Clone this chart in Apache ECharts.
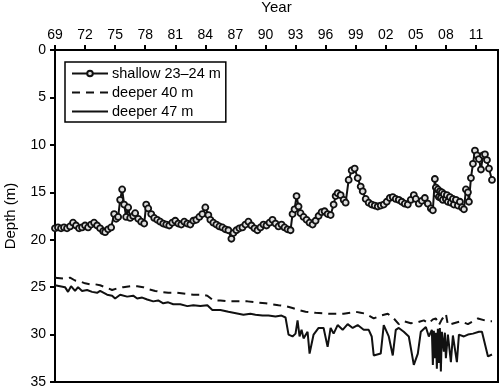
<!DOCTYPE html>
<html>
<head>
<meta charset="utf-8">
<script src="https://cdn.jsdelivr.net/npm/echarts@6/dist/echarts.min.js"></script>
<style>
html,body{margin:0;padding:0;background:#fff;}
#chart{width:500px;height:391px;}
</style>
</head>
<body>
<div id="chart"></div>
<script>
const seriesNames = ['shallow 23\u201324 m', 'deeper 40 m', 'deeper 47 m'];
const yTicks = [0, 5, 10, 15, 20, 25, 30, 35];

const shallow = [
[1969.0,18.8],[1969.3,18.7],[1969.6,18.8],[1969.9,18.7],[1970.2,18.8],[1970.5,18.6],[1970.8,18.2],[1971.1,18.5],
[1971.4,18.8],[1971.7,18.7],[1972.0,18.5],[1972.3,18.7],[1972.6,18.4],[1972.9,18.2],[1973.2,18.5],[1973.5,18.8],
[1973.8,19.1],[1974.0,19.2],[1974.3,18.9],[1974.6,18.7],[1974.9,17.3],[1975.1,17.8],[1975.3,17.6],[1975.5,15.8],
[1975.7,14.7],[1975.9,16.3],[1976.1,17.6],[1976.3,16.6],[1976.5,17.7],[1976.8,17.5],[1977.0,17.2],[1977.3,17.8],
[1977.6,18.1],[1977.9,18.3],[1978.1,16.3],[1978.3,16.7],[1978.6,17.3],[1978.9,17.7],[1979.2,17.9],[1979.5,18.1],
[1979.8,18.3],[1980.1,18.4],[1980.4,18.5],[1980.7,18.2],[1981.0,18.0],[1981.3,18.3],[1981.6,18.4],[1981.9,18.1],
[1982.2,18.3],[1982.5,18.4],[1982.8,18.0],[1983.1,17.9],[1983.4,17.6],[1983.7,17.3],[1984.0,16.6],[1984.3,17.4],
[1984.5,17.9],[1984.8,18.2],[1985.1,18.4],[1985.4,18.6],[1985.7,18.7],[1986.0,18.9],[1986.3,19.0],[1986.6,19.9],
[1986.8,19.3],[1987.1,19.0],[1987.4,18.8],[1987.7,18.7],[1988.0,18.4],[1988.3,18.1],[1988.6,18.5],[1988.9,18.8],
[1989.2,19.0],[1989.5,18.7],[1989.8,18.4],[1990.1,18.5],[1990.4,18.2],[1990.7,17.9],[1991.0,18.3],[1991.3,18.6],
[1991.6,18.4],[1991.9,18.7],[1992.2,18.9],[1992.5,19.0],[1992.7,17.3],[1992.9,16.8],[1993.1,15.4],[1993.3,16.5],
[1993.5,17.2],[1993.8,17.6],[1994.1,17.9],[1994.4,18.2],[1994.7,18.4],[1995.0,18.0],[1995.3,17.5],[1995.6,17.1],
[1995.9,17.0],[1996.2,17.3],[1996.5,17.4],[1996.8,16.3],[1997.0,15.4],[1997.2,15.1],[1997.5,15.3],[1997.8,15.8],
[1998.0,16.1],[1998.3,13.7],[1998.6,12.7],[1998.9,12.5],[1999.2,13.5],[1999.5,14.4],[1999.7,14.9],[2000.0,15.7],
[2000.3,16.1],[2000.6,16.3],[2000.9,16.4],[2001.2,16.5],[2001.5,16.4],[2001.8,16.3],[2002.1,16.0],[2002.4,15.6],
[2002.7,15.5],[2003.0,15.7],[2003.3,15.8],[2003.6,16.0],[2003.9,16.2],[2004.2,16.3],[2004.5,15.8],[2004.8,15.3],
[2005.0,15.7],[2005.3,16.2],[2005.6,15.9],[2005.9,15.6],[2006.2,16.2],[2006.5,16.7],[2006.7,16.9],[2006.9,13.6],
[2007.0,14.5],[2007.1,15.2],[2007.2,14.7],[2007.3,15.5],[2007.4,14.9],[2007.5,15.6],[2007.6,15.0],[2007.7,15.8],
[2007.8,15.2],[2008.0,15.7],[2008.1,15.3],[2008.2,16.0],[2008.4,15.5],[2008.5,16.1],[2008.7,15.7],[2008.8,16.3],
[2009.0,15.8],[2009.2,16.4],[2009.4,16.0],[2009.6,16.6],[2009.8,16.8],[2010.0,14.7],[2010.2,15.0],[2010.3,16.0],
[2010.5,13.5],[2010.7,12.0],[2010.9,10.6],[2011.1,11.1],[2011.3,11.5],[2011.5,12.6],[2011.7,11.1],[2011.9,11.0],
[2012.1,11.6],[2012.3,12.5],[2012.6,13.7]
];

const deeper40 = [
[1969.0,24.0],[1970.0,24.1],[1970.5,24.0],[1971.0,24.3],[1971.5,24.4],[1972.0,24.6],[1972.5,24.7],[1973.0,24.7],
[1973.5,24.8],[1974.0,25.0],[1974.7,25.3],[1975.3,25.1],[1975.8,25.0],[1976.5,24.9],[1977.2,24.9],[1977.8,25.0],
[1978.3,25.2],[1979.0,25.4],[1979.5,25.5],[1980.3,25.6],[1981.2,25.6],[1982.0,25.7],[1982.8,25.8],[1983.7,25.8],
[1984.2,25.9],[1984.8,26.4],[1985.5,26.4],[1986.3,26.5],[1987.2,26.5],[1988.2,26.5],[1989.0,26.6],[1990.0,26.7],
[1991.3,26.9],[1992.0,27.0],[1992.7,27.2],[1993.3,27.4],[1994.0,27.6],[1995.0,27.7],[1996.3,27.8],[1997.0,27.8],
[1997.8,27.8],[1998.5,27.7],[1999.0,27.6],[1999.5,27.7],[2000.0,27.8],[2000.8,28.3],[2001.5,28.0],[2002.2,27.8],
[2002.8,28.3],[2003.3,28.9],[2003.8,28.6],[2004.5,28.8],[2005.2,28.7],[2005.8,28.5],[2006.3,28.8],[2006.7,28.4],
[2007.0,28.3],[2007.3,29.0],[2007.6,28.4],[2008.0,27.8],[2008.2,29.0],[2008.8,28.8],[2009.5,28.6],[2010.2,28.9],
[2010.7,28.6],[2011.2,28.3],[2012.2,28.6],[2012.6,28.6]
];

const deeper47 = [
[1969.0,24.8],[1969.5,24.9],[1970.0,25.0],[1970.3,25.5],[1970.6,24.9],[1971.0,25.4],[1971.3,25.0],[1971.7,25.4],
[1972.2,25.3],[1972.7,25.5],[1973.2,25.6],[1973.5,25.4],[1974.2,25.8],[1974.7,25.9],[1975.0,26.2],[1975.5,25.8],
[1976.2,26.0],[1976.8,25.9],[1977.2,26.2],[1977.7,26.1],[1978.2,26.3],[1978.8,26.5],[1979.3,26.4],[1979.8,26.7],
[1980.3,26.6],[1980.8,26.8],[1981.5,26.8],[1982.2,27.0],[1982.8,26.9],[1983.5,27.0],[1984.2,26.9],[1984.7,27.4],
[1985.5,27.4],[1986.3,27.6],[1986.8,27.7],[1987.8,27.9],[1988.5,27.8],[1989.0,27.9],[1989.7,28.0],[1990.3,28.0],
[1991.0,28.1],[1991.6,28.0],[1992.0,28.2],[1992.3,30.0],[1992.7,30.2],[1993.0,29.9],[1993.2,28.5],[1993.4,30.2],
[1993.6,29.5],[1993.8,30.4],[1994.2,29.7],[1994.4,32.0],[1994.8,30.0],[1995.3,29.3],[1995.8,29.3],[1996.2,31.3],
[1996.5,29.3],[1996.8,29.9],[1997.2,29.0],[1997.7,29.5],[1998.2,28.9],[1998.7,29.3],[1999.2,29.0],[1999.8,29.5],
[2000.3,29.5],[2000.6,30.2],[2000.8,32.2],[2001.5,32.0],[2001.8,29.0],[2002.3,30.2],[2002.7,32.2],[2003.0,29.5],
[2003.3,29.3],[2003.8,29.7],[2004.3,30.2],[2004.8,33.2],[2005.2,32.0],[2005.5,29.7],[2006.0,29.2],[2006.3,30.2],
[2006.6,29.5],[2006.7,33.2],[2006.8,29.6],[2006.9,32.5],[2007.0,29.8],[2007.1,33.6],[2007.2,29.4],[2007.3,33.0],
[2007.4,29.3],[2007.5,33.9],[2007.6,29.7],[2007.8,31.8],[2007.9,29.8],[2008.0,32.5],[2008.2,30.0],[2008.5,32.9],
[2008.7,30.1],[2008.8,30.2],[2009.1,32.9],[2009.3,30.0],[2009.8,30.2],[2010.2,30.0],[2010.7,29.9],[2011.3,29.7],
[2011.6,29.7],[2012.2,32.3],[2012.6,32.1]
];

const FONT = '"Liberation Sans", Arial, Helvetica, sans-serif';
const chart = echarts.init(document.getElementById('chart'), null, {renderer: 'canvas'});
const hidden = {color: 'transparent', borderColor: 'transparent', borderWidth: 0, opacity: 0};
chart.setOption({
  animation: false,
  backgroundColor: '#fff',
  textStyle: {fontFamily: FONT, color: '#000'},
  grid: {left: 55, right: 2, top: 50, bottom: 9, containLabel: false, outerBoundsMode: 'none',
    show: true, borderColor: '#000', borderWidth: 2, backgroundColor: 'transparent'},
  legend: {
    orient: 'vertical', left: 65, top: 62,
    borderColor: '#000', borderWidth: 1.5, padding: [4, 5, 3, 6],
    itemWidth: 36, itemHeight: 7, itemGap: 4,
    textStyle: {fontFamily: FONT, fontSize: 14.5, color: '#000', padding: [0, 0, 0, -1]},
    data: [
      {name: seriesNames[0]},
      {name: seriesNames[1], itemStyle: hidden},
      {name: seriesNames[2], itemStyle: hidden}
    ]
  },
  xAxis: {
    type: 'value', position: 'top', min: 1969, max: 2013.2, interval: 3,
    name: 'Year', nameLocation: 'middle', nameGap: 35,
    nameTextStyle: {fontFamily: FONT, fontSize: 15, color: '#000'},
    axisLine: {lineStyle: {color: '#000', width: 2}},
    axisTick: {inside: false, length: 5, lineStyle: {color: '#000', width: 2}},
    axisLabel: {fontFamily: FONT, fontSize: 14, color: '#000', margin: 8, showMaxLabel: false,
      formatter: v => String(Math.round(v) % 100).padStart(2, '0')},
    splitLine: {show: false}
  },
  yAxis: {
    type: 'value', inverse: true, min: yTicks[0], max: yTicks[yTicks.length - 1], interval: 5,
    name: 'Depth (m)', nameLocation: 'middle', nameGap: 37,
    nameTextStyle: {fontFamily: FONT, fontSize: 15, color: '#000'},
    axisLine: {lineStyle: {color: '#000', width: 2}},
    axisTick: {inside: false, length: 5, lineStyle: {color: '#000', width: 2}},
    axisLabel: {fontFamily: FONT, fontSize: 14, color: '#000', margin: 9},
    splitLine: {show: false}
  },
  series: [
    {
      name: seriesNames[0], type: 'line', data: shallow,
      symbol: 'circle', symbolSize: 6, showSymbol: true,
      lineStyle: {color: '#111', width: 2},
      itemStyle: {color: '#ddd', borderColor: '#111', borderWidth: 1.8},
      z: 3
    },
    {
      name: seriesNames[1], type: 'line', data: deeper40, symbol: 'none',
      lineStyle: {color: '#111', width: 2, type: [8, 6]},
      itemStyle: {color: '#111'}
    },
    {
      name: seriesNames[2], type: 'line', data: deeper47, symbol: 'none',
      lineStyle: {color: '#111', width: 2},
      itemStyle: {color: '#111'}
    }
  ]
});
</script>
</body>
</html>
